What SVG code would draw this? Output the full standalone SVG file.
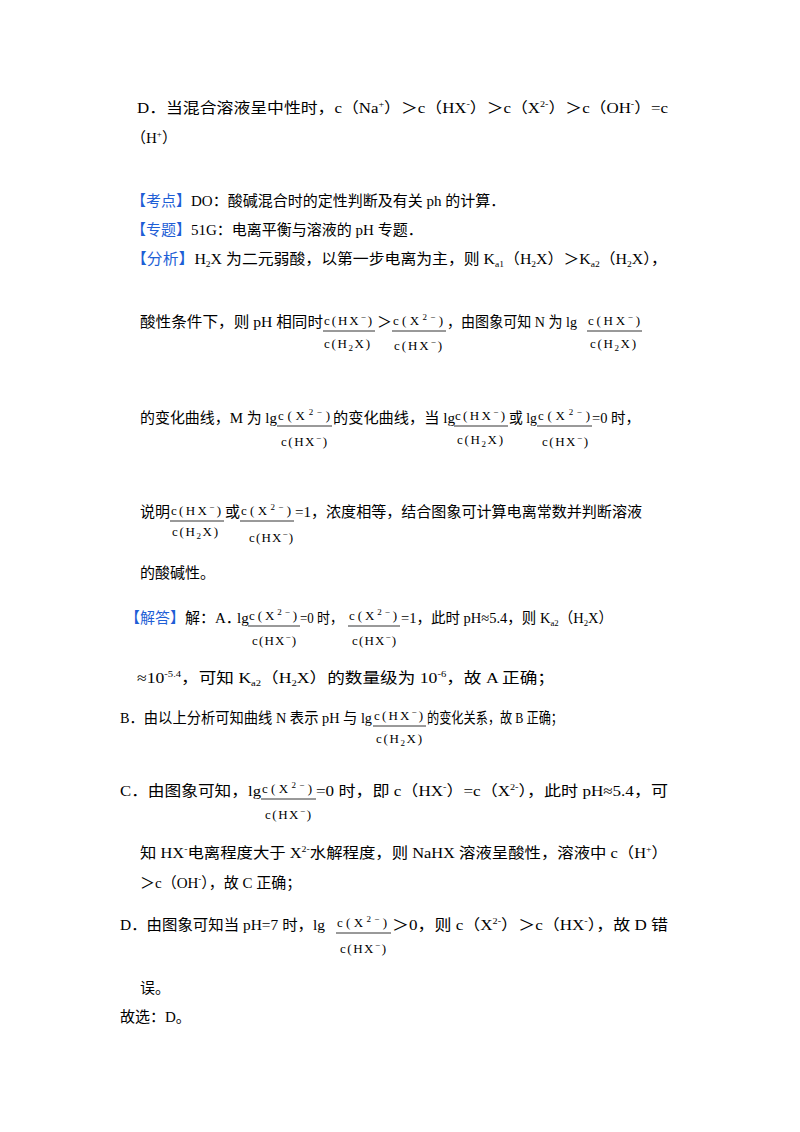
<svg xmlns="http://www.w3.org/2000/svg" width="800" height="1132" viewBox="0 0 800 1132">
<style>
text{font-family:"Liberation Serif","Noto Sans CJK SC",serif;font-size:15px;fill:#000}
.f{font-size:13px;font-family:"Liberation Serif","Noto Sans CJK SC",serif}
.b{fill:#1f5fd6}
.s{font-size:9px}
line{stroke:#000;stroke-width:0.8}
</style>
<rect width="800" height="1132" fill="#fff"/>
<g id="D0">
<text x="137" y="113" textLength="531" lengthAdjust="spacingAndGlyphs">D．当混合溶液呈中性时，c（Na<tspan class="s" dy="-6">+</tspan><tspan dy="6">）＞c（HX</tspan><tspan class="s" dy="-6">-</tspan><tspan dy="6">）＞c（X</tspan><tspan class="s" dy="-6">2-</tspan><tspan dy="6">）＞c（OH</tspan><tspan class="s" dy="-6">-</tspan><tspan dy="6">）=c</tspan></text>
<text x="131" y="143">（H<tspan class="s" dy="-6">+</tspan><tspan dy="6">）</tspan></text>
</g>
<g id="kaodian"><text x="131" y="206"><tspan class="b">【考点】</tspan>DO：酸碱混合时的定性判断及有关 ph 的计算．</text></g>
<g id="zhuanti"><text x="131" y="235"><tspan class="b">【专题】</tspan>51G：电离平衡与溶液的 pH 专题．</text></g>
<g id="fenxi">
<text x="131" y="264" textLength="536" lengthAdjust="spacingAndGlyphs"><tspan class="b">【分析】</tspan>H<tspan class="s" dy="3">2</tspan><tspan dy="-3">X 为二元弱酸，以第一步电离为主，则 K</tspan><tspan class="s" dy="3">a1</tspan><tspan dy="-3">（H</tspan><tspan class="s" dy="3">2</tspan><tspan dy="-3">X）＞K</tspan><tspan class="s" dy="3">a2</tspan><tspan dy="-3">（H</tspan><tspan class="s" dy="3">2</tspan><tspan dy="-3">X），</tspan></text>
<text x="140" y="327" textLength="183" lengthAdjust="spacingAndGlyphs">酸性条件下，则 pH 相同时</text>
<text class="f" x="324" y="325" textLength="48" lengthAdjust="spacing">c(HX<tspan class="s" dy="-5">−</tspan><tspan dy="5">)</tspan></text><line x1="323" y1="331" x2="375" y2="331"/><text class="f" x="324" y="348" textLength="46" lengthAdjust="spacing">c(H<tspan class="s" dy="3">2</tspan><tspan dy="-3">X)</tspan></text>
<text x="377" y="327">＞</text>
<text class="f" x="393" y="325" textLength="50" lengthAdjust="spacing">c(X<tspan class="s" dy="-5">2−</tspan><tspan dy="5">)</tspan></text><line x1="392" y1="331" x2="446" y2="331"/><text class="f" x="394" y="350" textLength="48" lengthAdjust="spacing">c(HX<tspan class="s" dy="-5">−</tspan><tspan dy="5">)</tspan></text>
<text x="447" y="327" textLength="130" lengthAdjust="spacingAndGlyphs">，由图象可知 N 为 lg</text>
<text class="f" x="588" y="325" textLength="52" lengthAdjust="spacing">c(HX<tspan class="s" dy="-5">−</tspan><tspan dy="5">)</tspan></text><line x1="587" y1="331" x2="642" y2="331"/><text class="f" x="590" y="348" textLength="46" lengthAdjust="spacing">c(H<tspan class="s" dy="3">2</tspan><tspan dy="-3">X)</tspan></text>

<text x="140" y="423" textLength="137" lengthAdjust="spacingAndGlyphs">的变化曲线，M 为 lg</text>
<text class="f" x="278" y="420" textLength="52" lengthAdjust="spacing">c(X<tspan class="s" dy="-5">2−</tspan><tspan dy="5">)</tspan></text><line x1="277" y1="426" x2="332" y2="426"/><text class="f" x="281" y="446" textLength="46" lengthAdjust="spacing">c(HX<tspan class="s" dy="-5">−</tspan><tspan dy="5">)</tspan></text>
<text x="333" y="423" textLength="122" lengthAdjust="spacingAndGlyphs">的变化曲线，当 lg</text>
<text class="f" x="455" y="420" textLength="50" lengthAdjust="spacing">c(HX<tspan class="s" dy="-5">−</tspan><tspan dy="5">)</tspan></text><line x1="454" y1="426" x2="508" y2="426"/><text class="f" x="457" y="444" textLength="46" lengthAdjust="spacing">c(H<tspan class="s" dy="3">2</tspan><tspan dy="-3">X)</tspan></text>
<text x="509" y="423" textLength="28" lengthAdjust="spacingAndGlyphs">或 lg</text>
<text class="f" x="538" y="420" textLength="52" lengthAdjust="spacing">c(X<tspan class="s" dy="-5">2−</tspan><tspan dy="5">)</tspan></text><line x1="537" y1="426" x2="592" y2="426"/><text class="f" x="542" y="446" textLength="46" lengthAdjust="spacing">c(HX<tspan class="s" dy="-5">−</tspan><tspan dy="5">)</tspan></text>
<text x="592" y="423" textLength="48" lengthAdjust="spacingAndGlyphs">=0 时，</text>

<text x="140" y="517">说明</text>
<text class="f" x="171" y="515" textLength="50" lengthAdjust="spacing">c(HX<tspan class="s" dy="-5">−</tspan><tspan dy="5">)</tspan></text><line x1="170" y1="521" x2="224" y2="521"/><text class="f" x="172" y="536" textLength="46" lengthAdjust="spacing">c(H<tspan class="s" dy="3">2</tspan><tspan dy="-3">X)</tspan></text>
<text x="225" y="517">或</text>
<text class="f" x="241" y="515" textLength="50" lengthAdjust="spacing">c(X<tspan class="s" dy="-5">2−</tspan><tspan dy="5">)</tspan></text><line x1="240" y1="521" x2="294" y2="521"/><text class="f" x="249" y="542" textLength="44" lengthAdjust="spacing">c(HX<tspan class="s" dy="-5">−</tspan><tspan dy="5">)</tspan></text>
<text x="295" y="517" textLength="347" lengthAdjust="spacingAndGlyphs">=1，浓度相等，结合图象可计算电离常数并判断溶液</text>
<text x="140" y="578">的酸碱性。</text>
</g>
<g id="jieda">
<text x="125" y="623"><tspan class="b">【解答】</tspan>解：A．</text>
<text x="237" y="623">lg</text>
<text class="f" x="249" y="620" textLength="48" lengthAdjust="spacing">c(X<tspan class="s" dy="-5">2−</tspan><tspan dy="5">)</tspan></text><line x1="248" y1="626" x2="300" y2="626"/><text class="f" x="252" y="645" textLength="44" lengthAdjust="spacing">c(HX<tspan class="s" dy="-5">−</tspan><tspan dy="5">)</tspan></text>
<text x="300" y="623" textLength="43" lengthAdjust="spacingAndGlyphs">=0 时，</text>
<text class="f" x="349" y="620" textLength="48" lengthAdjust="spacing">c(X<tspan class="s" dy="-5">2−</tspan><tspan dy="5">)</tspan></text><line x1="348" y1="626" x2="400" y2="626"/><text class="f" x="352" y="645" textLength="44" lengthAdjust="spacing">c(HX<tspan class="s" dy="-5">−</tspan><tspan dy="5">)</tspan></text>
<text x="401" y="623" textLength="212" lengthAdjust="spacingAndGlyphs">=1，此时 pH≈5.4，则 K<tspan class="s" dy="3">a2</tspan><tspan dy="-3">（H</tspan><tspan class="s" dy="3">2</tspan><tspan dy="-3">X）</tspan></text>
<text x="137" y="683" textLength="418" lengthAdjust="spacingAndGlyphs">≈10<tspan class="s" dy="-6">-5.4</tspan><tspan dy="6">，可知 K</tspan><tspan class="s" dy="3">a2</tspan><tspan dy="-3">（H</tspan><tspan class="s" dy="3">2</tspan><tspan dy="-3">X）的数量级为 10</tspan><tspan class="s" dy="-6">-6</tspan><tspan dy="6">，故 A 正确；</tspan></text>

<text x="120" y="723" textLength="252" lengthAdjust="spacingAndGlyphs">B．由以上分析可知曲线 N 表示 pH 与 lg</text>
<text class="f" x="374" y="720" textLength="49" lengthAdjust="spacing">c(HX<tspan class="s" dy="-5">−</tspan><tspan dy="5">)</tspan></text><line x1="373" y1="726" x2="426" y2="726"/><text class="f" x="376" y="743" textLength="46" lengthAdjust="spacing">c(H<tspan class="s" dy="3">2</tspan><tspan dy="-3">X)</tspan></text>
<text x="427" y="723" textLength="136" lengthAdjust="spacingAndGlyphs">的变化关系，故 B 正确；</text>

<text x="120" y="796" textLength="141" lengthAdjust="spacingAndGlyphs">C．由图象可知，lg</text>
<text class="f" x="262" y="793" textLength="50" lengthAdjust="spacing">c(X<tspan class="s" dy="-5">2−</tspan><tspan dy="5">)</tspan></text><line x1="261" y1="799" x2="316" y2="799"/><text class="f" x="265" y="819" textLength="46" lengthAdjust="spacing">c(HX<tspan class="s" dy="-5">−</tspan><tspan dy="5">)</tspan></text>
<text x="316" y="796" textLength="352" lengthAdjust="spacingAndGlyphs">=0 时，即 c（HX<tspan class="s" dy="-6">-</tspan><tspan dy="6">）=c（X</tspan><tspan class="s" dy="-6">2-</tspan><tspan dy="6">），此时 pH≈5.4，可</tspan></text>
<text x="140" y="858" textLength="528" lengthAdjust="spacingAndGlyphs">知 HX<tspan class="s" dy="-6">-</tspan><tspan dy="6">电离程度大于 X</tspan><tspan class="s" dy="-6">2-</tspan><tspan dy="6">水解程度，则 NaHX 溶液呈酸性，溶液中 c（H</tspan><tspan class="s" dy="-6">+</tspan><tspan dy="6">）</tspan></text>
<text x="140" y="888">＞c（OH<tspan class="s" dy="-6">-</tspan><tspan dy="6">），故 C 正确；</tspan></text>

<text x="120" y="930" textLength="205" lengthAdjust="spacingAndGlyphs">D．由图象可知当 pH=7 时，lg</text>
<text class="f" x="337" y="927" textLength="50" lengthAdjust="spacing">c(X<tspan class="s" dy="-5">2−</tspan><tspan dy="5">)</tspan></text><line x1="336" y1="933" x2="391" y2="933"/><text class="f" x="340" y="953" textLength="46" lengthAdjust="spacing">c(HX<tspan class="s" dy="-5">−</tspan><tspan dy="5">)</tspan></text>
<text x="392" y="930" textLength="276" lengthAdjust="spacingAndGlyphs">＞0，则 c（X<tspan class="s" dy="-6">2-</tspan><tspan dy="6">）＞c（HX</tspan><tspan class="s" dy="-6">-</tspan><tspan dy="6">），故 D 错</tspan></text>
<text x="140" y="993">误。</text>
<text x="120" y="1022">故选：D。</text>
</g>
</svg>
